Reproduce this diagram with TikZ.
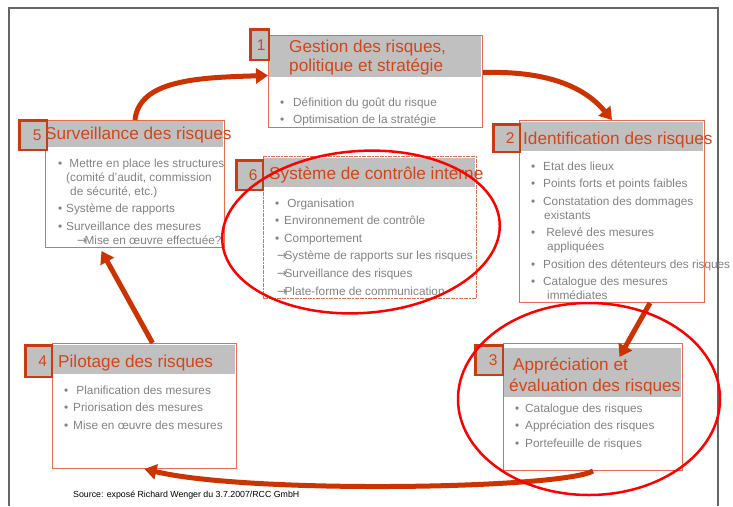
\documentclass[tikz,border=0pt]{standalone}
\usepackage{fontspec}
\setmainfont{Liberation Sans}
\newfontfamily\arrowfont{DejaVu Sans}
\usetikzlibrary{arrows.meta}

\definecolor{ttlred}{RGB}{210,70,25}
\definecolor{edgered}{RGB}{228,110,75}
\definecolor{darkred}{RGB}{200,60,20}
\definecolor{hdrgray}{RGB}{192,192,192}
\definecolor{txtgray}{RGB}{130,130,130}
\definecolor{arrred}{RGB}{204,51,0}

\newcommand\itm[1][10pt]{\makebox[#1][l]{\textbullet}}
\newcommand\arr{{\arrowfont →}\kern-2.5pt}

\begin{document}
\begin{tikzpicture}[x=1pt, y=-1pt,
    box/.style={draw=edgered, line width=1pt, anchor=north west, inner sep=0pt},
    head/.style={fill=hdrgray, anchor=north west, inner sep=0pt},
    num/.style={draw=darkred, fill=hdrgray, line width=2.4pt, anchor=north west, inner sep=0pt,
        text=ttlred, font=\fontsize{15.5}{16}\selectfont},
    title/.style={anchor=base west, inner sep=0pt, text=ttlred, font=\fontsize{17.2}{19}\selectfont},
    items/.style={anchor=base west, inner sep=0pt, text=txtgray, font=\fontsize{11.8}{14}\selectfont},
    flow/.style={draw=arrred, line width=5pt, -{Triangle[length=12pt,width=15pt]}},
    ring/.style={draw=red, line width=2.5pt}]
    \useasboundingbox (0,0) rectangle (733,506);
    % outer frame
    \draw[black!60, line width=1.2pt] (9,506) -- (9,8) -- (718,8) -- (718,506);

    % boxes
    \node[box, minimum width=214, minimum height=92] (b1) at (268,35) {};
    \node[box, minimum width=179, minimum height=127] (b5) at (45,120) {};
    \node[box, dash pattern=on 2pt off 0.6pt, minimum width=213, minimum height=142] (b6) at (263,156) {};
    \node[box, minimum width=185, minimum height=182] (b2) at (519,120) {};
    \node[box, minimum width=179, minimum height=127] (b3) at (503,343) {};
    \node[box, minimum width=184, minimum height=125] (b4) at (52,343) {};

    % grey headers
    \node[head, minimum width=212, minimum height=41] (h1) at (269,36) {};
    \node[head, minimum width=177, minimum height=26] (h5) at (46,121) {};
    \node[head, minimum width=211, minimum height=29] (h6) at (264,158) {};
    \node[head, minimum width=183, minimum height=29] (h2) at (520,122) {};
    \node[head, minimum width=177, minimum height=49] (h3) at (504,348) {};
    \node[head, minimum width=182, minimum height=29] (h4) at (53,345) {};

    % numbers
    \node[num, minimum width=18.6, minimum height=30.6] (n1) at (249.2,28.2) {\hspace{3pt}1};
    \node[num, minimum width=27.6, minimum height=29.6] (n5) at (18.2,119.2) {\hspace{8pt}5};
    \node[num, minimum width=26.6, minimum height=29.6] (n6) at (235.2,159.2) {\hspace{7pt}6};
    \node[num, minimum width=26.6, minimum height=27.6] (n2) at (492.2,123.2) {\hspace{7pt}2};
    \node[num, minimum width=27.6, minimum height=29.6] (n3) at (474.2,344.2) {\hspace{8pt}3};
    \node[num, minimum width=26.6, minimum height=31.6] (n4) at (24.2,344.2) {\hspace{8pt}4};

    % titles
    \node[title] (t1) at (289,52) {\begin{tabular}[t]{@{}l@{}}Gestion des risques,\\politique et stratégie\end{tabular}};
    \node[title] (t5) at (45,139) {Surveillance des risques};
    \node[title] (t6) at (269,179) {Système de contrôle interne};
    \node[title] (t2) at (523,144) {Identification des risques};
    \node[title, font=\fontsize{17.2}{21}\selectfont] (t3) at (509,370) {\begin{tabular}[t]{@{}l@{}}\hspace{4pt}Appréciation et\\évaluation des risques\end{tabular}};
    \node[title] (t4) at (58,367) {Pilotage des risques};

    % lists
    \node[items] (l1) at (280,106) {\begin{tabular}[t]{@{}l@{}}
        \itm[13pt]Définition du goût du risque\\[3pt]
        \itm[13pt]Optimisation de la stratégie\end{tabular}};
    \node[items] (l5) at (58,167) {\begin{tabular}[t]{@{}l@{}}
        \itm[8pt]\ Mettre en place les structures\\
        \hspace{8pt}(comité d'audit, commission\\
        \hspace{12pt}de sécurité, etc.)\\[3.5pt]
        \itm[8pt]Système de rapports\\[3.5pt]
        \itm[8pt]Surveillance des mesures\\
        \hspace{19pt}\arr Mise en œuvre effectuée?\end{tabular}};
    \node[items] (l6) at (275,207) {\begin{tabular}[t]{@{}l@{}}
        \itm[9pt]\ Organisation\\[3.6pt]
        \itm[9pt]Environnement de contrôle\\[3.6pt]
        \itm[9pt]Comportement\\[3.6pt]
        \hspace{2pt}\arr Système de rapports sur les risques\\[3.6pt]
        \hspace{2pt}\arr Surveillance des risques\\[3.6pt]
        \hspace{2pt}\arr Plate-forme de communication\end{tabular}};
    \node[items] (l2) at (531,170) {\begin{tabular}[t]{@{}l@{}}
        \itm[12pt]Etat des lieux\\[3.5pt]
        \itm[12pt]Points forts et points faibles\\[3.5pt]
        \itm[12pt]Constatation des dommages\\
        \hspace{13pt}existants\\[3.5pt]
        \itm[12pt]\ Relevé des mesures\\
        \hspace{16pt}appliquées\\[3.5pt]
        \itm[12pt]Position des détenteurs des risques\\[3.5pt]
        \itm[12pt]Catalogue des mesures\\
        \hspace{16pt}immédiates\end{tabular}};
    \node[items] (l3) at (515,412) {\begin{tabular}[t]{@{}l@{}}
        \itm Catalogue des risques\\[3.5pt]
        \itm Appréciation des risques\\[3.5pt]
        \itm Portefeuille de risques\end{tabular}};
    \node[items] (l4) at (64,394) {\begin{tabular}[t]{@{}l@{}}
        \itm[9pt]\ Planification des mesures\\[3.5pt]
        \itm[9pt]Priorisation des mesures\\[3.5pt]
        \itm[9pt]Mise en œuvre des mesures\end{tabular}};

    \node[anchor=base west, inner sep=0pt, font=\fontsize{8.8}{10}\selectfont] (src) at (73,497)
        {Source: exposé Richard Wenger du 3.7.2007/RCC GmbH};

    % cycle arrows
    \draw[flow] (b5.north) .. controls +(4,-40) and +(-70,2) .. ([yshift=6pt]b1.west);
    \draw[flow] ([yshift=9pt]b1.east) .. controls +(70,-2) and +(-25,-30) .. (b2.north);
    \draw[flow] ([xshift=38pt]b2.south) -- ([xshift=26.5pt,yshift=-14pt]b3.north);
    \draw[flow] (b3.south) .. controls +(-33,18) and +(105,25) .. (b4.south);
    \draw[flow] ([xshift=8pt]b4.north) -- ([xshift=-33.5pt,yshift=-3pt]b5.south);

    % red rings
    \draw[ring, rotate around={4:(361,232)}] (361,232) ellipse [x radius=139, y radius=81];
    \draw[ring] (589,399) ellipse [x radius=131, y radius=96];
\end{tikzpicture}
\end{document}
